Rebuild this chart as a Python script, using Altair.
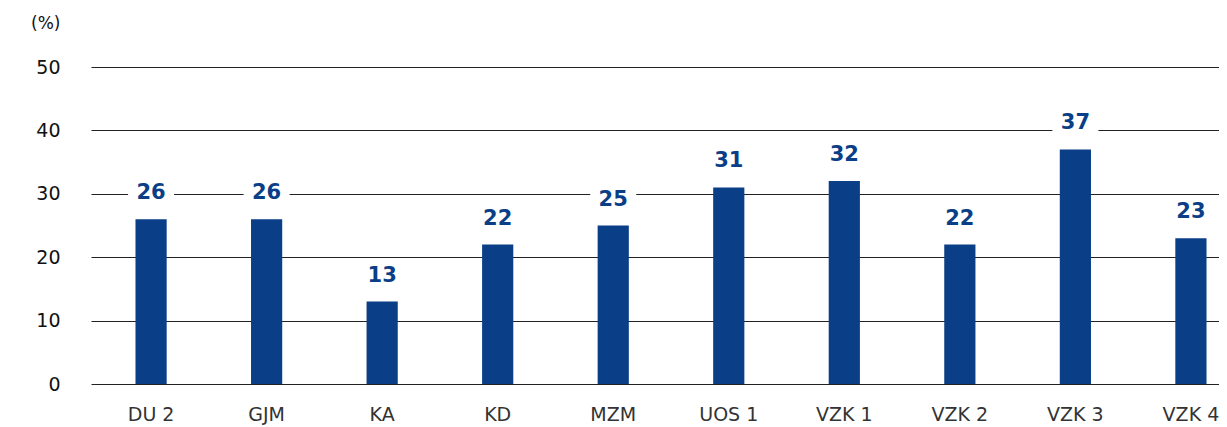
import altair as alt
import pandas as pd

categories = ["DU 2", "GJM", "KA", "KD", "MZM", "UOS 1", "VZK 1", "VZK 2", "VZK 3", "VZK 4"]
values = [26, 26, 13, 22, 25, 31, 32, 22, 37, 23]
y_ticks = [0, 10, 20, 30, 40, 50]

df = pd.DataFrame({"cat": categories, "val": values})

BLUE = "#0a3f87"
FONT = "DejaVu Sans"

x_enc = alt.X(
    "cat:N",
    sort=None,
    scale=alt.Scale(range=[0, 1160], paddingInner=0.73, paddingOuter=0.385),
    axis=alt.Axis(
        title=None, labelAngle=0, ticks=False, domain=False,
        labelPadding=21, labelFontSize=19, labelColor="#333333",
        labelFont=FONT, labelFontWeight="normal",
    ),
)
y_enc = alt.Y(
    "val:Q",
    scale=alt.Scale(domain=[0, 50], nice=False),
    axis=alt.Axis(
        values=y_ticks, grid=True, gridColor="#222222", gridWidth=1,
        domain=False, ticks=False, labelPadding=31, labelFontSize=19,
        labelColor="#111111", labelFont=FONT,
        title="(%)", titleAngle=0, titleX=-31, titleY=-44,
        titleAlign="right", titleBaseline="middle", titleFontSize=17,
        titleFontWeight="normal", titleFont=FONT, titleColor="#111111",
    ),
)

base = alt.Chart(df).encode(x=x_enc, y=y_enc)

boxes = base.mark_point(
    shape="M-1,-0.55L1,-0.55L1,0.55L-1,0.55Z",
    size=46 * 46, filled=True, fill="white", opacity=1, strokeWidth=0,
    yOffset=-26,
)
bars = base.mark_bar(color=BLUE)
labels = base.mark_text(
    color=BLUE, font=FONT, fontSize=21, fontWeight="bold",
    baseline="middle", yOffset=-26,
).encode(text="val:Q")

chart = (
    alt.layer(boxes, bars, labels)
    .properties(
        width=1128, height=317, autosize=alt.AutoSizeParams(type="none"),
        padding={"left": 83, "top": 59, "right": 0, "bottom": 46},
    )
    .configure_view(stroke=None)
)

chart.save("out.html", embed_options={"renderer": "svg", "actions": False})
